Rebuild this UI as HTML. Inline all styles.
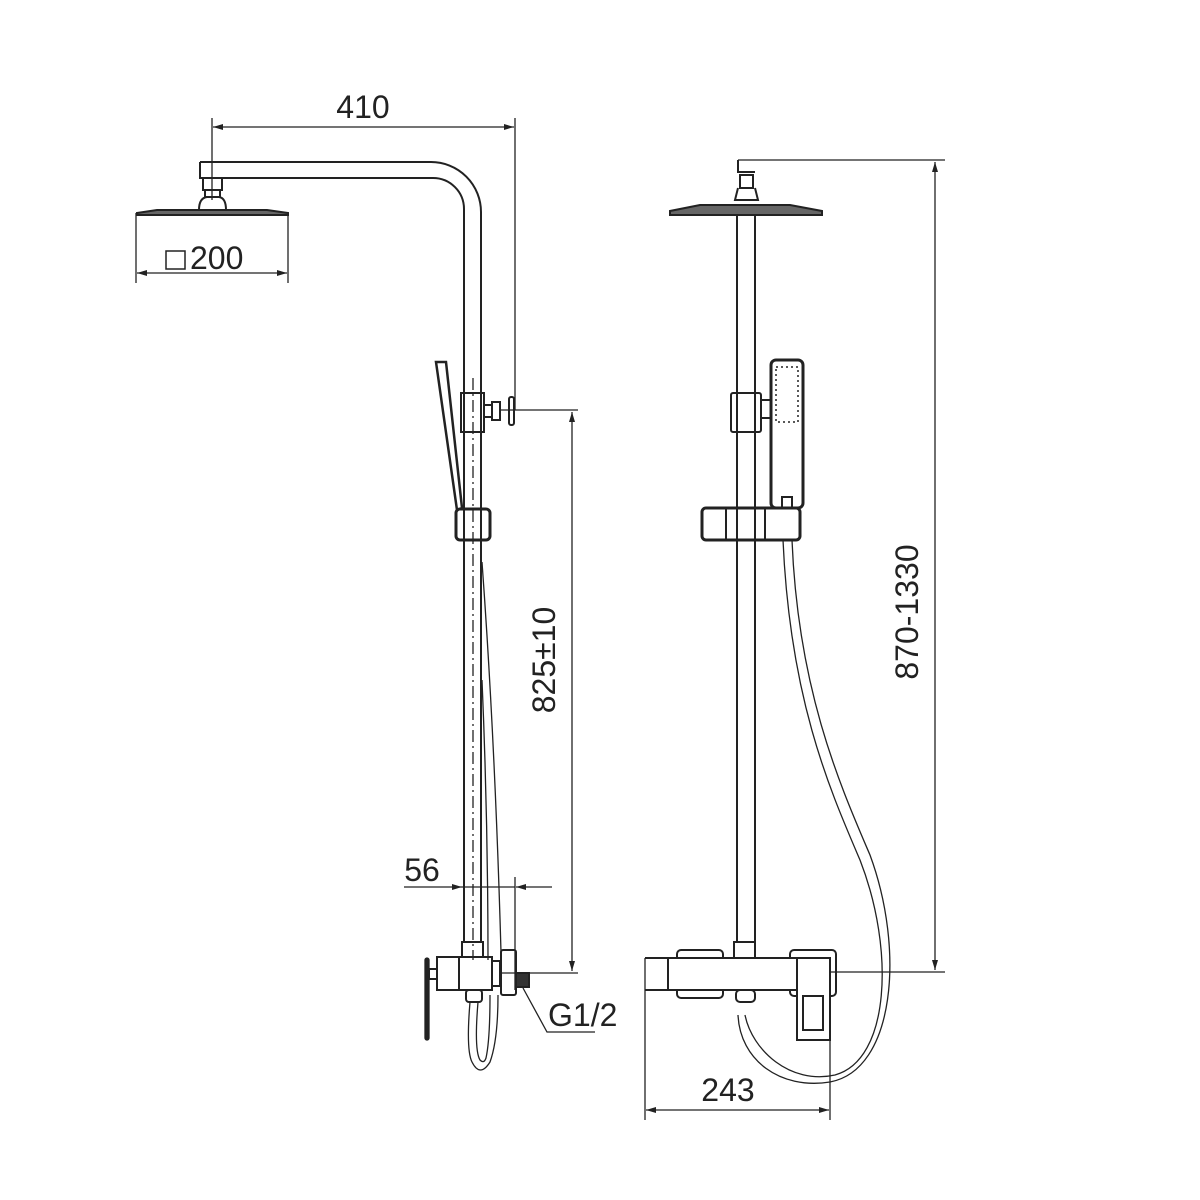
<!DOCTYPE html>
<html><head><style>html,body{margin:0;padding:0;background:#fff}svg{display:block}</style></head>
<body>
<svg width="1200" height="1200" viewBox="0 0 1200 1200" xmlns="http://www.w3.org/2000/svg" font-family="Liberation Sans, sans-serif">
<defs>
<marker id="a" viewBox="0 0 10 6" refX="10" refY="3" markerWidth="14" markerHeight="6" orient="auto-start-reverse" markerUnits="userSpaceOnUse"><path d="M0,0 L10,3 L0,6 z" fill="#222"/></marker>
</defs>
<g stroke="#222" stroke-width="1.3" fill="none">
<!-- LEFT VIEW -->
<line x1="212" y1="118" x2="212" y2="200"/>
<line x1="515" y1="118" x2="515" y2="410"/>
<line x1="213" y1="127" x2="514" y2="127" marker-start="url(#a)" marker-end="url(#a)"/>
<path d="M200,162 H431 A50,50 0 0 1 481,212 V942" stroke-width="2"/>
<path d="M222,178 H433 A31,31 0 0 1 464,209 V942" stroke-width="2"/>
<path d="M200,162 V178 H222" stroke-width="2"/>
<rect x="203" y="178" width="19" height="12" stroke-width="2"/>
<rect x="205" y="190" width="15" height="7" stroke-width="2"/>
<path d="M199,210 Q199,198 207,197 H219 Q226,198 226,210 Z" stroke-width="2"/>
<path d="M157,210 H267 L288,213 V215 H137 V213 Z" stroke-width="2" fill="#666"/>
<line x1="136" y1="213" x2="136" y2="283"/>
<line x1="288" y1="213" x2="288" y2="283"/>
<line x1="137" y1="273" x2="287" y2="273" marker-start="url(#a)" marker-end="url(#a)"/>
<rect x="166" y="251" width="19" height="18" stroke-width="1.5"/>
<rect x="461" y="393" width="23" height="39" stroke-width="2"/>
<rect x="484" y="405" width="8" height="12" stroke-width="2"/>
<rect x="492" y="402" width="8" height="18" stroke-width="2"/>
<rect x="509" y="397" width="5" height="28" rx="2" stroke-width="2"/>
<line x1="500" y1="410" x2="578" y2="410"/>
<path d="M436,362 L446,362 L462,508 L457,510 Z" stroke-width="2.5"/>
<rect x="456" y="509" width="34" height="31" rx="4" stroke-width="3"/>
<line x1="473" y1="378" x2="473" y2="960" stroke-dasharray="12,4,2,4"/>
<path d="M482,562 Q495,740 501,952"/>
<path d="M482,680 Q488,820 488,960"/>
<path d="M470,1002 Q466,1050 472,1062 Q480,1078 490,1062 Q498,1040 498,995"/>
<path d="M478,1002 Q474,1050 480,1060 Q484,1064 486,1058 Q490,1040 490,995"/>
<rect x="462" y="942" width="21" height="15" stroke-width="2"/>
<rect x="437" y="957" width="55" height="33" stroke-width="2"/>
<line x1="459" y1="957" x2="459" y2="990" stroke-width="2"/>
<rect x="425" y="958" width="4" height="82" rx="2" fill="#222"/>
<rect x="429" y="969" width="8" height="10" stroke-width="2"/>
<rect x="492" y="961" width="8" height="25" stroke-width="2"/>
<rect x="501" y="950" width="15" height="45" rx="2" stroke-width="2"/>
<rect x="516" y="973" width="13" height="14" fill="#333" stroke-width="2"/>
<rect x="466" y="990" width="16" height="12" rx="3" stroke-width="2"/>
<line x1="500" y1="973" x2="578" y2="973"/>
<line x1="572" y1="412" x2="572" y2="971" marker-start="url(#a)" marker-end="url(#a)"/>
<line x1="515" y1="877" x2="515" y2="990"/>
<line x1="404" y1="887" x2="462" y2="887" marker-end="url(#a)"/>
<line x1="462" y1="887" x2="515" y2="887"/>
<line x1="552" y1="887" x2="516" y2="887" marker-end="url(#a)"/>
<polyline points="523,988 547,1032 595,1032"/>

<!-- RIGHT VIEW -->
<line x1="738" y1="160" x2="945" y2="160"/>
<path d="M738,160 V172 H755" stroke-width="2"/>
<rect x="740" y="175" width="13" height="13" stroke-width="2"/>
<path d="M738,188 L735,200 H758 L755,188" stroke-width="2"/>
<path d="M700,205 H790 L822,211 V215 H670 V211 Z" stroke-width="2" fill="#666"/>
<line x1="737" y1="215" x2="737" y2="942" stroke-width="2"/>
<line x1="755" y1="215" x2="755" y2="942" stroke-width="2"/>
<rect x="731" y="393" width="30" height="39" rx="2" stroke-width="2"/>
<rect x="761" y="400" width="10" height="18" stroke-width="2"/>
<rect x="771" y="360" width="32" height="148" rx="5" stroke-width="3"/>
<rect x="776" y="367" width="22" height="55" stroke-width="1.5" stroke-dasharray="2,3"/>
<rect x="782" y="497" width="10" height="11" stroke-width="2"/>
<rect x="702" y="508" width="98" height="32" rx="4" stroke-width="3"/>
<line x1="726" y1="508" x2="726" y2="540" stroke-width="2"/>
<line x1="765" y1="508" x2="765" y2="540" stroke-width="2"/>
<path d="M783,540 C790,700 830,790 860,860 C895,950 890,1060 835,1075 C790,1085 752,1050 745,1015"/>
<path d="M792,540 C798,690 840,785 870,855 C905,950 895,1070 830,1082 C780,1090 740,1060 738,1015" />
<rect x="734" y="942" width="21" height="16" stroke-width="2"/>
<rect x="677" y="950" width="46" height="48" rx="4" stroke-width="2"/>
<rect x="790" y="950" width="46" height="46" rx="4" stroke-width="2"/>
<rect x="668" y="958" width="129" height="32" fill="#fff" stroke-width="2"/>
<line x1="645" y1="958" x2="668" y2="958" stroke-width="2"/>
<line x1="645" y1="990" x2="668" y2="990" stroke-width="2"/>
<rect x="797" y="958" width="33" height="82" fill="#fff" stroke-width="2"/>
<rect x="803" y="996" width="20" height="34" stroke-width="2"/>
<rect x="736" y="990" width="19" height="12" rx="4" stroke-width="2"/>
<line x1="830" y1="972" x2="945" y2="972"/>
<line x1="935" y1="162" x2="935" y2="970" marker-start="url(#a)" marker-end="url(#a)"/>
<line x1="645" y1="958" x2="645" y2="1120"/>
<line x1="830" y1="1040" x2="830" y2="1120"/>
<line x1="646" y1="1110" x2="829" y2="1110" marker-start="url(#a)" marker-end="url(#a)"/>
</g>
<g fill="#222" font-size="32">
<text x="363" y="118" text-anchor="middle">410</text>
<text x="190" y="269">200</text>
<text x="422" y="881" text-anchor="middle">56</text>
<text x="548" y="1026">G1/2</text>
<text x="728" y="1101" text-anchor="middle">243</text>
<text transform="translate(555,660) rotate(-90)" text-anchor="middle">825±10</text>
<text transform="translate(918,612) rotate(-90)" text-anchor="middle">870-1330</text>
</g>
</svg>
</body></html>
